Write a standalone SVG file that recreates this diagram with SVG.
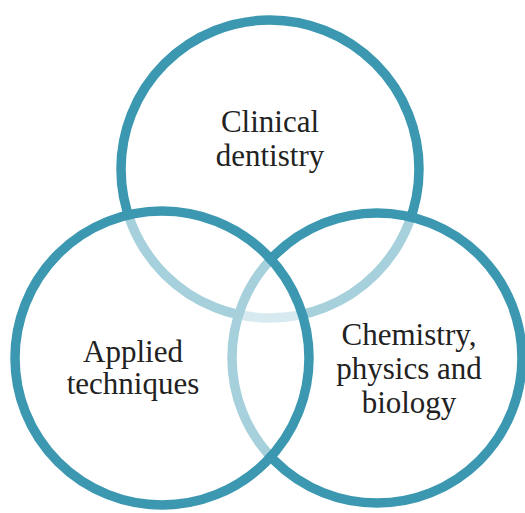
<svg xmlns="http://www.w3.org/2000/svg" width="525" height="513" viewBox="0 0 525 513">
  <style>
    /* Each ring carries a half-transparent white fill, so rings drawn later
       wash out the parts of earlier rings that sit inside them. */
    .ring { fill: #ffffff; fill-opacity: 0.55; stroke: #3b98b0; stroke-width: 9.5; }
    .label { font-family: "Liberation Serif", "DejaVu Serif", serif; font-size: 31px; fill: #222222; text-anchor: middle; }
  </style>
  <rect width="525" height="513" fill="#ffffff"/>
  <g id="connectors"/>
  <g id="clinical-dentistry">
    <circle class="ring" cx="270" cy="169" r="149"/>
    <text class="label" x="270" y="132">Clinical</text>
    <text class="label" x="270" y="166">dentistry</text>
  </g>
  <g id="chemistry-physics-biology">
    <circle class="ring" cx="377" cy="358" r="145"/>
    <text class="label" x="409" y="345">Chemistry,</text>
    <text class="label" x="409" y="379">physics and</text>
    <text class="label" x="409" y="413">biology</text>
  </g>
  <g id="applied-techniques">
    <circle class="ring" cx="162" cy="358" r="147"/>
    <text class="label" x="133" y="362">Applied</text>
    <text class="label" x="133" y="394">techniques</text>
  </g>
</svg>
